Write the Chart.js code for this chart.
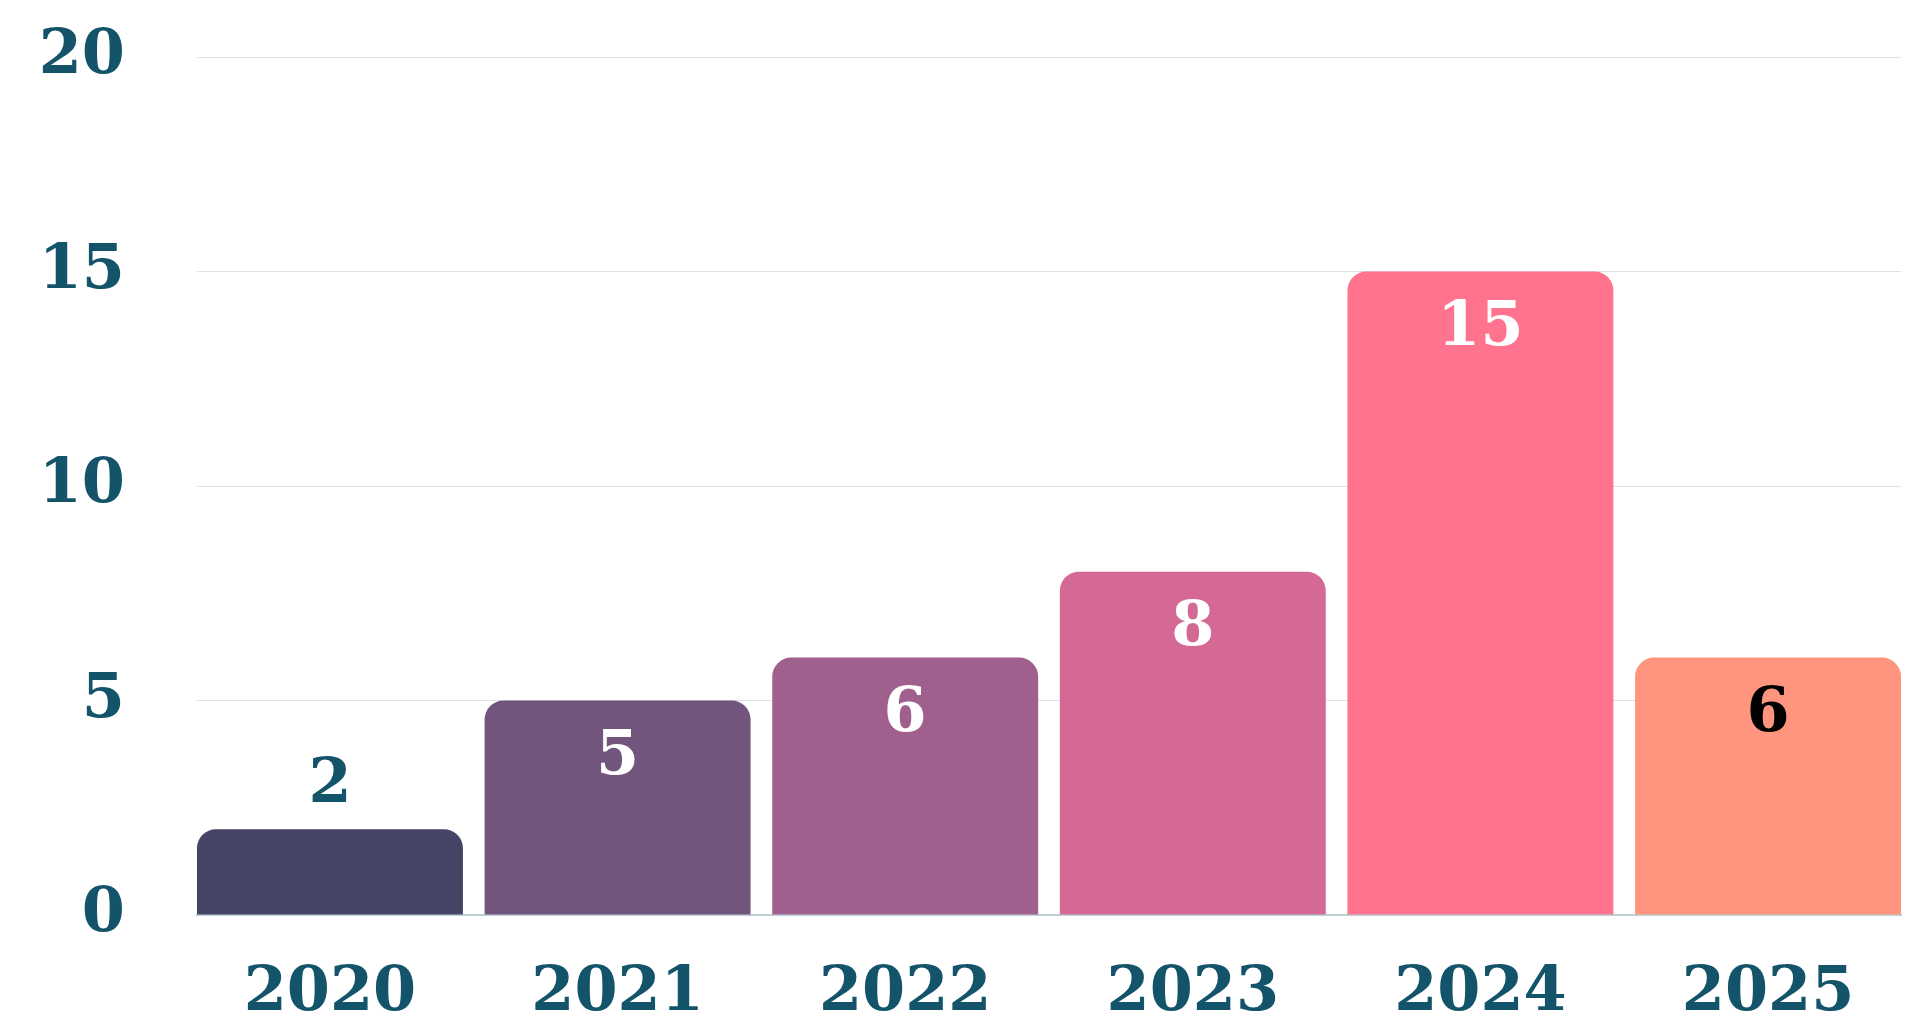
<!DOCTYPE html>
<html>
<head>
<meta charset="utf-8">
<title>Bars per year</title>
<script src="https://cdn.jsdelivr.net/npm/chart.js@4.4.1/dist/chart.umd.min.js"></script>
<style>
  html, body { margin: 0; padding: 0; background: #fff; overflow: hidden; }
  canvas { display: block; }
</style>
</head>
<body>
<canvas id="chart" width="1908" height="1033"></canvas>
<script>
// data
const years = ['2020', '2021', '2022', '2023', '2024', '2025'];
const counts = [2, 5, 6, 8, 15, 6];
const yTicks = [0, 5, 10, 15, 20];

// styles
const barColors = ['#464465', '#72557c', '#a0608e', '#d36994', '#ff738f', '#ff957f'];
const labelColors = ['#13546b', '#ffffff', '#ffffff', '#ffffff', '#ffffff', '#000000'];
const TEAL = '#13546b';
const FONT = '"DejaVu Serif", serif';
const BAR_FILL = 0.9246; // bar width / pitch, bars touch chart edges

// value labels: inside the bar near its top, above it when the bar is too short
const valueLabels = {
  id: 'valueLabels',
  afterDatasetsDraw(chart) {
    const ctx = chart.ctx;
    const meta = chart.getDatasetMeta(0);
    ctx.save();
    ctx.font = 'bold 62px ' + FONT;
    ctx.textAlign = 'center';
    ctx.textBaseline = 'middle';
    meta.data.forEach((bar, i) => {
      const h = bar.base - bar.y;
      const inside = h > 120;
      ctx.fillStyle = labelColors[i];
      ctx.fillText(String(counts[i]), bar.x, inside ? bar.y + 57 : bar.y - 43);
    });
    ctx.restore();
  }
};

new Chart(document.getElementById('chart'), {
  type: 'bar',
  data: {
    datasets: [{
      data: counts.map((v, i) => ({ x: i, y: v })),
      backgroundColor: barColors,
      borderRadius: { topLeft: 19, topRight: 19 },
      barPercentage: BAR_FILL,
      categoryPercentage: 1
    }]
  },
  options: {
    responsive: false,
    animation: false,
    layout: { padding: { left: 0, right: 7, top: 57, bottom: 0 } },
    plugins: {
      legend: { display: false },
      tooltip: { enabled: false }
    },
    scales: {
      x: {
        type: 'linear',
        offset: false,
        min: -BAR_FILL / 2,
        max: years.length - 1 + BAR_FILL / 2,
        grid: { display: false, drawTicks: false, offset: false },
        border: { display: true, color: '#bcd0d6', width: 2 },
        ticks: {
          stepSize: 1,
          includeBounds: false,
          autoSkip: false,
          maxRotation: 0,
          padding: 42,
          color: TEAL,
          font: { family: FONT, size: 62, weight: 'bold' },
          callback: v => years[v] ?? ''
        },
        afterFit: s => { s.height = 118; s.paddingLeft = 0; s.paddingRight = 0; }
      },
      y: {
        min: 0,
        max: 20,
        grid: { color: '#dde2e6', lineWidth: 1, drawTicks: false },
        border: { display: false },
        ticks: {
          padding: 72,
          color: TEAL,
          font: { family: FONT, size: 62, weight: 'bold' }
        },
        afterBuildTicks: s => { s.ticks = yTicks.map(v => ({ value: v })); },
        afterFit: s => { s.width = 197; s.paddingTop = 0; s.paddingBottom = 0; }
      }
    }
  },
  plugins: [valueLabels]
});
</script>
</body>
</html>
